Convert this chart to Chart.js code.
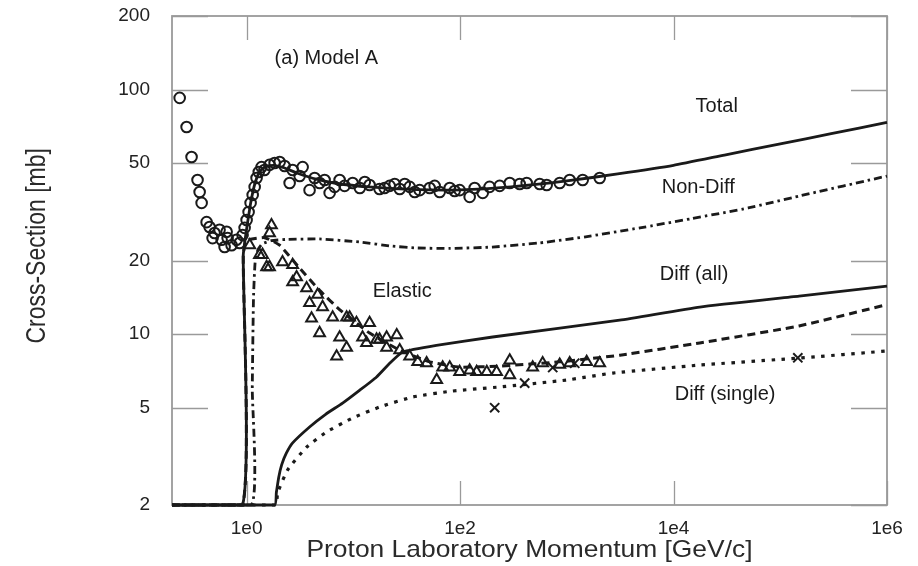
<!DOCTYPE html>
<html>
<head>
<meta charset="utf-8">
<script src="https://cdn.jsdelivr.net/npm/chart.js@4.4.1/dist/chart.umd.min.js"></script>
<style>
  html, body { margin: 0; padding: 0; background: #fff; }
  canvas { display: block; }
</style>
</head>
<body>
<canvas id="xsec" width="918" height="566"></canvas>
<script>
// axis ticks: lab momentum (GeV/c) and cross-section (mb)
const momentumTicks = [1, 1e2, 1e4, 1e6];
const sigmaTicks = [2, 5, 10, 20, 50, 100, 200];

// model curves, [p, sigma]
const totalCurve = [
  [0.2, 2], [0.917, 2], [0.93, 21], [0.97, 24.5], [1.02, 28.5], [1.1, 35], [1.2, 41.5],
  [1.32, 46], [1.5, 48.5], [1.8, 49], [2.2, 48], [3, 45.5], [4.5, 43], [7, 41.3],
  [14, 40], [40, 39], [100, 38.9], [300, 40], [1000, 42.3], [3000, 45.2], [10000, 49],
  [30000, 54], [1e5, 60], [3e5, 66], [1e6, 73.5]
];
const nonDiffCurve = [
  [0.2, 2], [1.11, 2], [1.13, 6], [1.16, 14], [1.2, 19.5], [1.27, 22], [1.4, 23.4],
  [1.7, 24.1], [2.4, 24.4], [4.8, 24.5], [11.5, 23.8], [23, 22.9], [40, 22.5], [80, 22.4],
  [200, 22.7], [556, 23.6], [1500, 25], [4850, 27.2], [15000, 29.7], [50000, 32.8],
  [150000, 36.7], [1e6, 44.3]
];
const elasticCurve = [
  [0.2, 2], [0.917, 2], [0.93, 21], [0.97, 23.5], [1.03, 24.3], [1.47, 24.8], [2.04, 23.1],
  [3.14, 18.6], [4.83, 15.1], [7.43, 12.6], [14.2, 10.1], [27.2, 8.6], [52, 7.7], [99, 7.33],
  [235, 7.4], [860, 7.7], [3150, 8.2], [17600, 9.2], [150000, 10.8], [1e6, 13.2]
];
const diffAllCurve = [
  [0.2, 2], [1.83, 2], [1.9, 2.25], [2.0, 2.6], [2.13, 2.92], [2.35, 3.25], [2.7, 3.59],
  [3.89, 4.17], [5.5, 4.7], [7.93, 5.22], [11.5, 5.9], [16.5, 6.68], [21.9, 7.6], [29, 8.45],
  [60, 9.0], [202, 9.73], [3130, 11.4], [17600, 12.9], [150000, 14.3], [1e6, 15.7]
];
const diffSingleCurve = [
  [0.2, 2], [1.87, 2], [1.95, 2.24], [2.42, 2.78], [3.65, 3.45], [5.62, 3.98], [9.85, 4.54],
  [17.6, 5.03], [35.9, 5.53], [85, 5.85], [235, 6.08], [1000, 6.49], [2700, 6.93],
  [17600, 7.47], [150000, 7.98], [1e6, 8.53]
];

// measurements, [p, sigma]
const totalData = [
  [0.236, 92.5], [0.274, 70.3], [0.305, 53], [0.347, 42.7], [0.363, 38.1], [0.379, 34.4],
  [0.422, 28.7], [0.45, 27.4], [0.48, 24.7], [0.501, 25.9], [0.558, 26.7], [0.583, 24.3],
  [0.622, 22.7], [0.65, 26.2], [0.664, 24.7], [0.723, 23.1], [0.805, 24.3], [0.86, 23.6],
  [0.917, 25.4], [0.958, 27.2], [1.0, 29.3], [1.044, 31.6], [1.09, 34.4], [1.14, 37.1],
  [1.19, 40], [1.24, 43.5], [1.3, 46], [1.38, 48.2], [1.47, 46.9], [1.64, 49.2],
  [1.83, 50.1], [2.04, 50.6], [2.27, 48.7], [2.53, 41.5], [2.7, 46.9], [3.14, 44.3],
  [3.35, 48.2], [3.89, 38.8], [4.34, 43.5], [4.83, 41.5], [5.38, 42.7], [6.0, 37.8],
  [6.68, 40], [7.44, 42.7], [8.28, 40.4], [9.85, 41.5], [11.5, 39.6], [12.8, 41.9],
  [14.2, 40.7], [17.6, 39.2], [19.6, 39.6], [21.9, 40.4], [24.4, 41.1], [27.2, 39.2],
  [30.3, 41.1], [33.7, 40], [37.6, 38.1], [41.8, 38.8], [51.9, 39.6], [57.8, 40.4],
  [64.4, 38.1], [80, 39.6], [89, 38.5], [99.1, 38.8], [123, 36.4], [137, 39.6],
  [163, 37.8], [189, 40], [235, 40.4], [292, 41.5], [362, 41.1], [421, 41.5],
  [557, 41.1], [648, 40.7], [858, 41.5], [1064, 42.7], [1409, 42.7], [2033, 43.5]
];
const elasticData = [
  [1.07, 23.1], [1.32, 21.1], [1.41, 21.1], [1.54, 18.8], [1.64, 18.8], [1.71, 27.9],
  [1.64, 25.9], [2.17, 19.7], [2.7, 19.2], [2.7, 16.3], [2.94, 17.1], [3.65, 15.4],
  [3.89, 13.4], [4.06, 11.6], [4.63, 14.5], [4.83, 10.1], [5.15, 12.9], [6.4, 11.7],
  [6.97, 8.1], [7.44, 9.7], [8.65, 11.7], [8.65, 8.8], [9.23, 11.7], [10.7, 11.1],
  [12.2, 9.7], [13.3, 9.2], [14.2, 11.1], [16.5, 9.5], [17.6, 9.5], [20.5, 9.7],
  [20.5, 8.8], [25.5, 9.9], [27.2, 8.6], [33.7, 8.1], [40.1, 7.7], [48.6, 7.6],
  [60.4, 6.5], [68.7, 7.3], [80, 7.3], [99.1, 7.0], [123, 7.1], [143, 7.0],
  [178, 7.0], [220, 7.0], [292, 7.8], [292, 6.8], [479, 7.3], [594, 7.6],
  [858, 7.5], [1064, 7.6], [1535, 7.7], [2033, 7.6]
];
const singleDiffData = [
  [211, 5.0], [403, 6.3], [738, 7.3], [1186, 7.6], [146000, 8.0]
];

// curve captions, anchored at their left edge in data space
const captions = [
  { text: '(a) Model A', p: 1.83, sigma: 134 },
  { text: 'Total', p: 16100, sigma: 85 },
  { text: 'Non-Diff', p: 7750, sigma: 39.6 },
  { text: 'Elastic', p: 15.2, sigma: 14.9 },
  { text: 'Diff (all)', p: 7430, sigma: 17.5 },
  { text: 'Diff (single)', p: 10260, sigma: 5.64 }
];

const FONT = '"Liberation Sans", Arial, Helvetica, sans-serif';
const INK = '#1a1a1a';
const toXY = pts => pts.map(([x, y]) => ({ x, y }));

function curve(data, dash, width) {
  return {
    data: toXY(data),
    showLine: true,
    borderColor: INK,
    borderWidth: width,
    borderDash: dash,
    pointRadius: 0,
    tension: 0.15,
    clip: 6
  };
}

function markers(data, style, radius) {
  return {
    data: toXY(data),
    showLine: false,
    pointStyle: style,
    pointRadius: radius,
    pointBorderWidth: 2,
    pointBorderColor: INK,
    pointBackgroundColor: 'rgba(0,0,0,0)',
    clip: 8
  };
}

// frame with inward tick marks, as in the plotting package
const framePlugin = {
  id: 'frame',
  beforeDatasetsDraw(chart) {
    const { ctx, chartArea: a, scales } = chart;
    ctx.save();
    ctx.strokeStyle = '#9a9a9a';
    ctx.lineWidth = 1.3;
    ctx.beginPath();
    momentumTicks.forEach(v => {
      const x = Math.round(scales.x.getPixelForValue(v)) + 0.5;
      ctx.moveTo(x, a.top); ctx.lineTo(x, a.top + 24);
      ctx.moveTo(x, a.bottom); ctx.lineTo(x, a.bottom - 24);
    });
    sigmaTicks.forEach(v => {
      const y = Math.round(scales.y.getPixelForValue(v)) + 0.5;
      ctx.moveTo(a.left, y); ctx.lineTo(a.left + 36, y);
      ctx.moveTo(a.right, y); ctx.lineTo(a.right - 36, y);
    });
    ctx.stroke();
    ctx.lineWidth = 1.8;
    ctx.strokeRect(a.left, a.top, a.right - a.left, a.bottom - a.top);
    ctx.restore();
  },
  afterDraw(chart) {
    const { ctx, chartArea: a, scales } = chart;
    ctx.save();
    ctx.fillStyle = INK;
    ctx.textAlign = 'left';
    ctx.textBaseline = 'middle';
    ctx.font = '20px ' + FONT;
    captions.forEach(c => {
      ctx.fillText(c.text, scales.x.getPixelForValue(c.p), scales.y.getPixelForValue(c.sigma));
    });

    // axis titles
    ctx.fillStyle = '#2a2a2a';
    ctx.textAlign = 'center';
    ctx.textBaseline = 'alphabetic';
    ctx.font = '24px ' + FONT;
    ctx.save();
    ctx.translate((a.left + a.right) / 2, a.bottom + 52);
    ctx.scale(1.1, 1);
    ctx.fillText('Proton Laboratory Momentum [GeV/c]', 0, 0);
    ctx.restore();

    ctx.save();
    ctx.translate(37, a.top + (a.bottom - a.top) * 0.47);
    ctx.scale(1.2, 1);
    ctx.rotate(-Math.PI / 2);
    ctx.textBaseline = 'middle';
    ctx.font = '23px ' + FONT;
    ctx.fillText('Cross-Section [mb]', 0, 0);
    ctx.restore();
    ctx.restore();
  }
};

new Chart(document.getElementById('xsec'), {
  type: 'scatter',
  data: {
    datasets: [
      markers(totalData, 'circle', 5.3),
      markers(elasticData, 'triangle', 6.2),
      markers(singleDiffData, 'crossRot', 6.5),
      curve(totalCurve, [], 2.8),
      curve(nonDiffCurve, [8, 4, 2.5, 4], 2.8),
      curve(elasticCurve, [8, 5], 3),
      curve(diffAllCurve, [], 2.8),
      curve(diffSingleCurve, [3.5, 6.5], 3.2)
    ]
  },
  options: {
    responsive: false,
    devicePixelRatio: 1,
    animation: false,
    events: [],
    layout: { padding: { left: 0, right: 31, top: 16, bottom: 0 } },
    plugins: { legend: { display: false }, tooltip: { enabled: false } },
    scales: {
      x: {
        type: 'logarithmic',
        min: 0.2,
        max: 1e6,
        bounds: 'data',
        grid: { display: false },
        border: { display: false },
        afterBuildTicks: s => { s.ticks = momentumTicks.map(v => ({ value: v })); },
        afterFit: s => {
          s.height = 61;
          s.paddingLeft = 0;
          s.paddingRight = 0;
        },
        ticks: {
          autoSkip: false,
          maxRotation: 0,
          padding: 4,
          color: '#222',
          font: { family: FONT, size: 19 },
          callback: v => '1e' + Math.round(Math.log10(v))
        }
      },
      y: {
        type: 'logarithmic',
        min: 2,
        max: 200,
        bounds: 'data',
        grid: { display: false },
        border: { display: false },
        afterBuildTicks: s => { s.ticks = sigmaTicks.map(v => ({ value: v })); },
        afterFit: s => {
          s.width = 172;
          s.paddingTop = 0;
          s.paddingBottom = 0;
        },
        ticks: {
          autoSkip: false,
          padding: 14,
          color: '#222',
          font: { family: FONT, size: 19 },
          callback: v => String(v)
        }
      }
    }
  },
  plugins: [framePlugin]
});
</script>
</body>
</html>
